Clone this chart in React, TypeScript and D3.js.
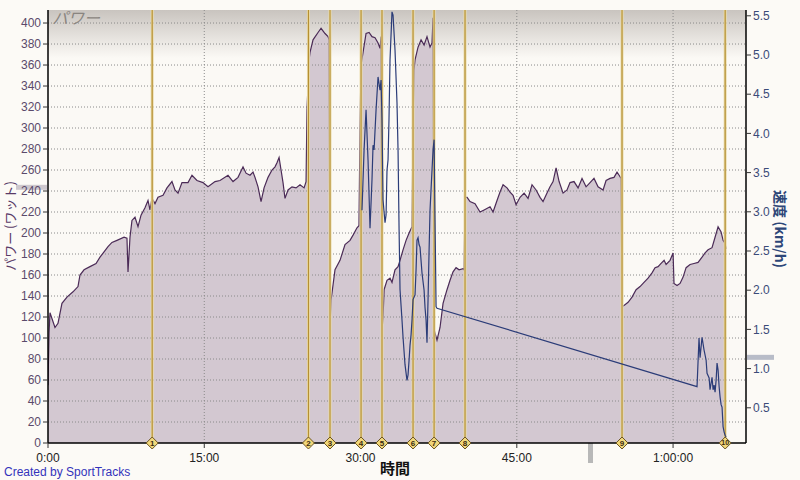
import React from "react";
import * as d3 from "d3";

// power trace: time (minutes) and watts
const powerTime = [0.0, 0.1, 0.19, 0.67, 0.96, 1.34, 1.82, 2.4, 2.88, 3.07, 3.46, 4.03, 4.61, 4.99, 5.38, 5.76, 6.14, 6.62, 7.3, 7.58, 7.68, 7.87, 8.06, 8.35, 8.64, 8.93, 9.31, 9.6, 9.79, 9.98, 10.27, 10.56, 11.04, 11.42, 11.9, 12.19, 12.48, 12.86, 13.44, 13.82, 14.3, 14.88, 15.36, 16.03, 16.51, 17.28, 17.76, 18.24, 18.72, 19.01, 19.39, 19.68, 19.87, 20.16, 20.45, 20.74, 21.12, 21.5, 21.79, 21.98, 22.18, 22.37, 22.56, 22.75, 23.04, 23.42, 23.81, 24.19, 24.58, 24.77, 24.86, 25.06, 25.15, 25.44, 25.92, 26.21, 26.59, 26.88, 26.98, 27.07, 27.17, 27.55, 28.03, 28.51, 28.99, 29.28, 29.66, 29.85, 29.95, 30.05, 30.24, 30.53, 30.82, 31.1, 31.39, 31.68, 31.87, 31.97, 32.06, 32.16, 32.26, 32.54, 32.83, 33.02, 33.31, 33.6, 33.79, 34.08, 34.37, 34.66, 34.94, 35.04, 35.13, 35.23, 35.52, 35.81, 36.1, 36.38, 36.67, 36.86, 36.96, 37.06, 37.34, 37.63, 37.92, 38.3, 38.59, 38.88, 39.17, 39.46, 39.84, 39.94, 40.03, 40.23, 40.51, 40.99, 41.47, 41.86, 42.43, 42.72, 43.1, 43.39, 43.68, 44.06, 44.35, 44.64, 44.93, 45.31, 45.7, 46.08, 46.46, 46.85, 47.23, 47.52, 47.9, 48.19, 48.48, 48.77, 49.06, 49.44, 49.82, 50.11, 50.49, 50.88, 51.26, 51.65, 52.03, 52.41, 52.8, 53.28, 53.57, 53.95, 54.33, 54.62, 54.82, 55.01, 55.1, 55.29, 55.68, 56.06, 56.45, 56.83, 57.21, 57.6, 57.98, 58.27, 58.56, 58.85, 59.14, 59.33, 59.71, 60.0, 60.09, 60.38, 60.67, 60.96, 61.25, 61.63, 62.01, 62.4, 62.78, 63.07, 63.36, 63.74, 64.03, 64.32, 64.61, 64.8, 64.99, 65.09];
const powerValue = [55, 105, 124, 110, 114, 133, 139, 144, 149, 160, 165, 168, 171, 177, 182, 187, 191, 193, 196, 195, 163, 196, 212, 215, 206, 217, 224, 231, 222, 233, 228, 234, 236, 243, 249, 241, 238, 248, 248, 255, 250, 248, 244, 249, 250, 255, 249, 253, 263, 257, 255, 258, 253, 244, 230, 243, 253, 260, 263, 267, 272, 260, 248, 233, 241, 244, 243, 246, 243, 249, 317, 365, 372, 384, 391, 395, 390, 387, 384, 112, 136, 165, 174, 189, 193, 198, 205, 207, 300, 360, 372, 390, 391, 387, 386, 381, 376, 387, 108, 120, 146, 155, 157, 153, 165, 168, 174, 184, 193, 200, 206, 300, 355, 365, 377, 384, 379, 387, 377, 381, 405, 108, 98, 110, 133, 146, 155, 163, 167, 165, 166, 165, 234, 234, 230, 228, 220, 222, 225, 220, 231, 239, 246, 243, 239, 236, 227, 234, 238, 233, 246, 241, 234, 230, 238, 244, 249, 262, 249, 238, 241, 248, 249, 243, 252, 244, 248, 252, 244, 241, 250, 252, 253, 258, 255, 252, 130, 131, 134, 139, 146, 149, 153, 157, 162, 167, 168, 171, 174, 170, 174, 181, 152, 150, 152, 158, 167, 170, 171, 172, 177, 181, 184, 186, 196, 206, 201, 193, 190, 185];

// speed trace: time (minutes) and km/h
const speedTime = [30.14, 30.34, 30.53, 30.72, 30.91, 31.1, 31.2, 31.3, 31.49, 31.68, 31.87, 31.97, 32.06, 32.16, 32.35, 32.45, 32.54, 32.64, 32.73, 32.83, 33.02, 33.12, 33.31, 33.5, 33.6, 33.7, 33.79, 33.98, 34.08, 34.27, 34.46, 34.56, 34.66, 34.75, 34.85, 34.94, 35.04, 35.23, 35.33, 35.42, 35.52, 35.62, 35.71, 35.9, 36.1, 36.19, 36.29, 36.38, 36.48, 36.58, 36.67, 36.86, 36.96, 37.06, 37.15, 37.25, 37.34, 62.3, 62.49, 62.59, 62.78, 62.97, 63.17, 63.26, 63.46, 63.55, 63.74, 63.84, 63.94, 64.03, 64.13, 64.22, 64.32, 64.42, 64.51, 64.61, 64.7, 64.8, 64.9, 64.99, 65.09];
const speedValue = [3.02, 3.79, 4.3, 3.66, 2.79, 3.41, 3.85, 3.79, 4.3, 4.72, 4.55, 4.68, 4.17, 3.15, 2.86, 2.96, 3.53, 3.66, 4.17, 4.94, 5.55, 5.51, 5.06, 4.39, 3.79, 2.77, 2.01, 1.62, 1.4, 1.05, 0.85, 0.92, 1.11, 1.3, 1.43, 1.62, 1.88, 1.94, 2.26, 2.64, 2.67, 2.58, 2.55, 2.22, 2.0, 1.78, 1.62, 1.33, 1.88, 2.51, 3.02, 3.53, 3.79, 3.92, 2.9, 1.79, 1.77, 0.77, 1.39, 1.14, 1.4, 1.24, 1.11, 0.94, 0.88, 0.73, 0.89, 0.73, 0.79, 0.7, 0.85, 1.07, 0.98, 0.77, 0.64, 0.54, 0.51, 0.26, 0.19, 0.15, 0.13];

// lap markers (minutes)
const lapTimes = [10.0, 25.0, 27.07, 30.05, 32.06, 35.04, 37.06, 40.03, 55.1, 65.0];
const lapLabels = ["1", "2", "3", "4", "5", "6", "7", "8", "9", "10"];

const powerTicks = d3.range(0, 401, 20);
const speedTicks = [0.5, 1.0, 1.5, 2.0, 2.5, 3.0, 3.5, 4.0, 4.5, 5.0, 5.5];
const timeTicks = [0, 15, 30, 45, 60];
const timeLabels = ["0:00", "15:00", "30:00", "45:00", "1:00:00"];

const L = 48, R = 746, T = 10, B = 443;

export default function App() {
  const x = d3.scaleLinear().domain([0, 67.0]).range([L, R]);
  const yP = d3.scaleLinear().domain([0, 412.4]).range([B, T]);
  const yS = d3.scaleLinear().domain([0.051, 5.574]).range([B, T]);

  const powerPts = powerTime.map((t, i) => [t, powerValue[i]] as [number, number]);
  const speedPts = speedTime.map((t, i) => [t, speedValue[i]] as [number, number]);

  const area = d3.area<[number, number]>().x(d => x(d[0])).y0(B).y1(d => yP(d[1]));
  const pline = d3.line<[number, number]>().x(d => x(d[0])).y(d => yP(d[1]));
  const sline = d3.line<[number, number]>().x(d => x(d[0])).y(d => yS(d[1]));

  const numFont = "'Liberation Sans', Arial, sans-serif";
  const jpFont = "'Noto Sans CJK JP', sans-serif";

  return (
    <div style={{ position: "fixed", left: 0, top: 0, width: 800, height: 480 }}>
      <svg width={800} height={480} style={{ display: "block" }}>
        <defs>
          <linearGradient id="topg" x1="0" y1="0" x2="0" y2="1">
            <stop offset="0" stopColor="#c9c4bf" />
            <stop offset="1" stopColor="#fbf9f5" />
          </linearGradient>
          <clipPath id="plotclip">
            <rect x={L} y={T} width={R - L} height={B - T} />
          </clipPath>
        </defs>
        <rect x={0} y={0} width={800} height={480} fill="#fcfaf6" />
        <rect x={L} y={T} width={R - L} height={B - T} fill="#fbf9f5" />
        <rect x={L} y={T} width={R - L} height={48} fill="url(#topg)" />

        {/* indicator bars (behind labels) */}
        <rect x={16} y={yP(244) - 2} width={31} height={5} fill="#cdc7cd" />
        <rect x={R + 1} y={yS(1.15) - 2} width={27} height={5} fill="#b8bcc8" />
        <rect x={588} y={B} width={5} height={20} fill="#b8b8b8" />

        {/* area */}
        <path d={area(powerPts) ?? ""} fill="#d3c8d1" clipPath="url(#plotclip)" />

        {/* grid */}
        {powerTicks.filter(v => v > 0).map(v => (
          <line key={"gh" + v} x1={L} x2={R} y1={yP(v)} y2={yP(v)} stroke="#8a8a8a" strokeWidth={1} strokeDasharray="1,2" />
        ))}
        {timeTicks.filter(t => t > 0).map(t => (
          <line key={"gv" + t} x1={x(t)} x2={x(t)} y1={T} y2={B} stroke="#8a8a8a" strokeWidth={1} strokeDasharray="1,2" />
        ))}

        {/* power line */}
        <path d={pline(powerPts) ?? ""} fill="none" stroke="#4b2b57" strokeWidth={1.2} clipPath="url(#plotclip)" />

        {/* lap lines */}
        {lapTimes.map((t, i) => (
          <g key={"lap" + i}>
            <line x1={x(t)} x2={x(t)} y1={T} y2={B} stroke="#eadcaa" strokeWidth={3} />
            <line x1={x(t)} x2={x(t)} y1={T} y2={B} stroke="#b58f33" strokeWidth={1.2} />
          </g>
        ))}

        {/* speed line */}
        <path d={sline(speedPts) ?? ""} fill="none" stroke="#2b3c78" strokeWidth={1.2} clipPath="url(#plotclip)" />

        {/* axes */}
        <line x1={L} x2={L} y1={T} y2={B} stroke="#000" strokeWidth={1.5} />
        <line x1={R} x2={R} y1={T} y2={B} stroke="#000" strokeWidth={1.5} />
        <line x1={L} x2={R} y1={B} y2={B} stroke="#000" strokeWidth={1.5} />

        {powerTicks.map(v => (
          <g key={"pt" + v}>
            <line x1={L - 5} x2={L} y1={yP(v)} y2={yP(v)} stroke="#333" />
            <text x={L - 7} y={yP(v)} dy="0.35em" textAnchor="end" fontFamily={numFont} fontSize={12} fill="#5b4a6b">{v}</text>
          </g>
        ))}
        {speedTicks.map(v => (
          <g key={"st" + v}>
            <line x1={R} x2={R + 5} y1={yS(v)} y2={yS(v)} stroke="#333" />
            <text x={R + 7} y={yS(v)} dy="0.35em" textAnchor="start" fontFamily={numFont} fontSize={12} fill="#3b4a78">{v.toFixed(1)}</text>
          </g>
        ))}
        {timeTicks.map((t, i) => (
          <g key={"tt" + t}>
            <line x1={x(t)} x2={x(t)} y1={B} y2={B + 5} stroke="#333" />
            <text x={x(t)} y={B + 19} textAnchor="middle" fontFamily={numFont} fontSize={12} fill="#222">{timeLabels[i]}</text>
          </g>
        ))}

        {/* lap diamonds */}
        {lapTimes.map((t, i) => (
          <g key={"dm" + i} transform={`translate(${x(t)},${B})`}>
            <path d="M0,-6 L6,0 L0,6 L-6,0 Z" fill="#f1d77a" stroke="#6b5422" strokeWidth={1} />
            <text x={0} y={0} dy="0.35em" textAnchor="middle" fontFamily={numFont} fontSize={lapLabels[i].length > 1 ? 7 : 8} fontWeight="bold" fill="#3a2a10">{lapLabels[i]}</text>
          </g>
        ))}

        {/* titles */}
        <text x={52} y={24} fontFamily={jpFont} fontSize={16} fontStyle="italic" fill="#8a8580">パワー</text>
        <text transform={`translate(15,${226}) rotate(-90)`} textAnchor="middle" fontFamily={jpFont} fontSize={13} fill="#5a3a68">パワー (ワット)</text>
        <text transform={`translate(775,${229}) rotate(90)`} textAnchor="middle" fontFamily={jpFont} fontSize={14} fontWeight="bold" fill="#2d4678">速度 (km/h)</text>
        <text x={395} y={474} textAnchor="middle" fontFamily={jpFont} fontSize={15} fontWeight="bold" fill="#111">時間</text>
        <text x={4} y={476} fontFamily={numFont} fontSize={12} fill="#3333bb">Created by SportTracks</text>
      </svg>
    </div>
  );
}
